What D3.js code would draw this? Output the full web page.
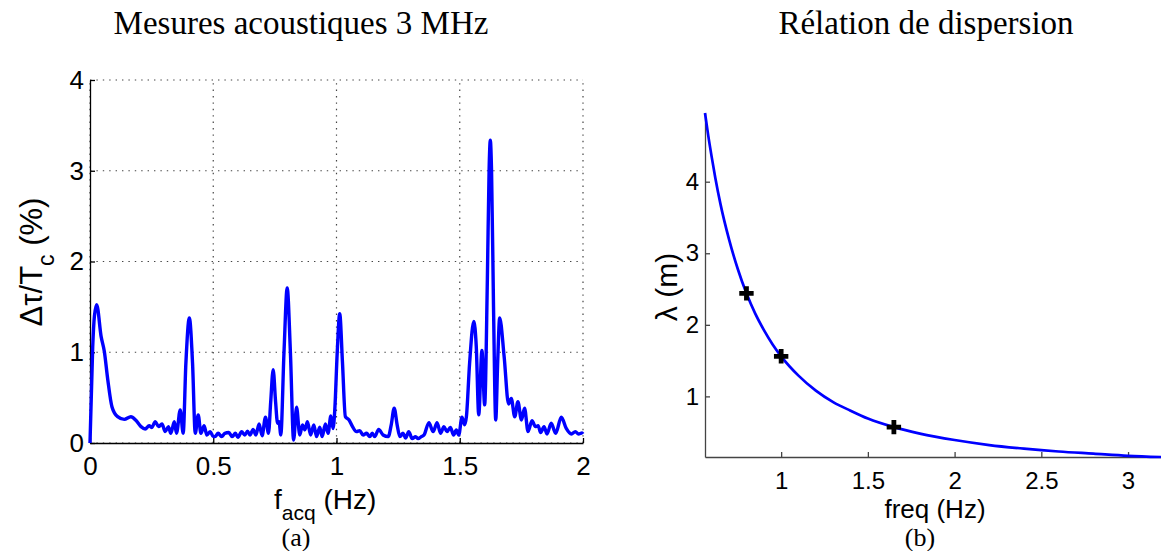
<!DOCTYPE html>
<html><head><meta charset="utf-8">
<script src="https://cdn.jsdelivr.net/npm/d3@7"></script>
<style>
html,body{margin:0;padding:0;background:#fff;}
svg{display:block;}
.tick text{font-family:"Liberation Sans",Arial,sans-serif;fill:#000;}
</style></head>
<body>
<svg id="chart" width="1161" height="551"></svg>
<script>
// ---- Panel (a): acoustic measurement spectrum ----
const facq = [0,0.011,0.018,0.027,0.045,0.058,0.072,0.089,0.112,0.139,0.166,0.186,0.207,0.224,0.24,0.25,0.265,0.278,0.292,0.305,0.318,0.328,0.342,0.351,0.366,0.378,0.389,0.403,0.416,0.427,0.439,0.45,0.463,0.474,0.488,0.5,0.507,0.52,0.534,0.547,0.563,0.577,0.59,0.6,0.615,0.628,0.639,0.649,0.662,0.673,0.686,0.698,0.712,0.724,0.733,0.743,0.753,0.761,0.767,0.774,0.787,0.8,0.813,0.826,0.838,0.851,0.862,0.872,0.882,0.895,0.908,0.919,0.932,0.942,0.955,0.966,0.977,0.986,0.993,1.003,1.013,1.024,1.036,1.051,1.065,1.081,1.094,1.108,1.122,1.135,1.145,1.155,1.171,1.189,1.21,1.222,1.234,1.246,1.257,1.27,1.28,1.293,1.307,1.321,1.331,1.344,1.355,1.375,1.392,1.408,1.422,1.436,1.448,1.462,1.475,1.486,1.496,1.509,1.52,1.527,1.54,1.557,1.567,1.577,1.59,1.601,1.612,1.619,1.624,1.629,1.637,1.646,1.654,1.662,1.68,1.698,1.709,1.723,1.736,1.75,1.763,1.777,1.793,1.807,1.818,1.828,1.842,1.854,1.871,1.889,1.912,1.932,1.953,1.969,1.982,1.996,2.0];
const dtau = [0,1.06,1.4,1.525,1.175,1.01,0.70,0.40,0.29,0.26,0.29,0.25,0.18,0.155,0.19,0.17,0.235,0.18,0.21,0.125,0.18,0.107,0.235,0.107,0.365,0.107,0.88,1.378,0.88,0.107,0.31,0.107,0.19,0.088,0.125,0.07,0.07,0.107,0.07,0.107,0.115,0.07,0.107,0.063,0.125,0.088,0.13,0.088,0.15,0.088,0.21,0.08,0.284,0.107,0.45,0.807,0.45,0.217,0.235,0.088,1.0,1.709,1.0,0.033,0.394,0.088,0.2,0.145,0.235,0.088,0.2,0.07,0.175,0.07,0.21,0.107,0.298,0.16,0.365,1.0,1.425,0.9,0.29,0.254,0.18,0.125,0.136,0.088,0.107,0.07,0.107,0.07,0.15,0.088,0.07,0.2,0.383,0.2,0.07,0.107,0.055,0.125,0.048,0.07,0.048,0.07,0.088,0.224,0.125,0.224,0.107,0.18,0.125,0.17,0.088,0.145,0.088,0.284,0.2,0.29,0.88,1.34,1.064,0.31,1.02,0.42,1.8,3.0,3.337,3.0,1.5,0.254,0.9,1.378,0.954,0.43,0.49,0.29,0.456,0.254,0.383,0.125,0.246,0.18,0.19,0.114,0.18,0.1,0.217,0.107,0.284,0.16,0.1,0.125,0.1,0.11,0.1];
const aXTicks = [0,0.5,1,1.5,2];
const aXTickLabels = ["0","0.5","1","1.5","2"];
const aYTicks = [0,1,2,3,4];
const aYTickLabels = ["0","1","2","3","4"];

// ---- Panel (b): dispersion relation ----
const freq = [0.561,0.58,0.6,0.62,0.65,0.7,0.75,0.8,0.85,0.9,0.95,1.0,1.1,1.2,1.3,1.4,1.5,1.65,1.8,2.0,2.2,2.4,2.6,2.8,3.0,3.19];
const lambda = [4.96,4.64,4.34,4.06,3.69,3.19,2.78,2.44,2.16,1.93,1.73,1.56,1.29,1.08,0.92,0.80,0.69,0.57,0.48,0.39,0.32,0.27,0.23,0.20,0.17,0.153];
const measFreq = [0.8,1.0,1.65];
const measLambda = [2.44,1.56,0.57];
const bXTicks = [1,1.5,2,2.5,3];
const bXTickLabels = ["1","1.5","2","2.5","3"];
const bYTicks = [1,2,3,4];
const bYTickLabels = ["1","2","3","4"];

const svg = d3.select("#chart");
const sans = '"Liberation Sans", Arial, sans-serif';
const serif = '"Liberation Serif", "Times New Roman", serif';

// ===== Panel (a) =====
const xa = d3.scaleLinear().domain([0,2]).range([90,583]);
const ya = d3.scaleLinear().domain([0,4]).range([443,80]);
const ga = svg.append("g");

// grid
ga.append("g").selectAll("line").data(aXTicks).join("line")
  .attr("x1",d=>xa(d)).attr("x2",d=>xa(d)).attr("y1",ya(0)).attr("y2",ya(4))
  .attr("stroke","#444").attr("stroke-width",1.2).attr("stroke-dasharray","1.4,5");
ga.append("g").selectAll("line").data(aYTicks).join("line")
  .attr("x1",xa(0)).attr("x2",xa(2)).attr("y1",d=>ya(d)).attr("y2",d=>ya(d))
  .attr("stroke","#444").attr("stroke-width",1.2).attr("stroke-dasharray","1.4,5");

const axA = ga.append("g").attr("transform",`translate(0,${ya(0)})`)
  .call(d3.axisBottom(xa).tickValues(aXTicks).tickFormat((d,i)=>aXTickLabels[i]).tickSizeInner(-5).tickSizeOuter(0).tickPadding(14));
const ayA = ga.append("g").attr("transform",`translate(${xa(0)},0)`)
  .call(d3.axisLeft(ya).tickValues(aYTicks).tickFormat((d,i)=>aYTickLabels[i]).tickSizeInner(-5).tickSizeOuter(0).tickPadding(6));
[axA,ayA].forEach(g=>{
  g.selectAll("path,line").attr("stroke","#000").attr("stroke-width",1.3);
  g.selectAll("text").style("font-family",sans).style("font-size","26px");
});

ga.append("path")
  .datum(facq.map((f,i)=>[f,dtau[i]]))
  .attr("fill","none").attr("stroke","#0000ff").attr("stroke-width",3.4)
  .attr("stroke-linejoin","round")
  .attr("d",d3.line().x(d=>xa(d[0])).y(d=>ya(d[1])).curve(d3.curveMonotoneX));

// labels panel a
const xlabA = ga.append("text").attr("x",274).attr("y",509)
  .style("font-family",sans).style("font-size","28px");
xlabA.append("tspan").text("f");
xlabA.append("tspan").attr("dy",11).style("font-size","21px").text("acq");
xlabA.append("tspan").attr("dy",-11).text(" (Hz)");

const ylabA = ga.append("text").attr("transform","translate(42,262) rotate(-90)")
  .attr("text-anchor","middle")
  .style("font-family",sans).style("font-size","31px");
ylabA.append("tspan").text("Δτ/T");
ylabA.append("tspan").attr("dy",12).style("font-size","23px").text("c");
ylabA.append("tspan").attr("dy",-12).text(" (%)");

svg.append("text").attr("x",301).attr("y",34).attr("text-anchor","middle")
  .style("font-family",serif).style("font-size","33px").text("Mesures acoustiques 3 MHz");
svg.append("text").attr("x",296).attr("y",546).attr("text-anchor","middle")
  .style("font-family",serif).style("font-size","26px").text("(a)");

// ===== Panel (b) =====
const xb = d3.scaleLinear().domain([0.561,3.19]).range([705,1161]);
const yb = d3.scaleLinear().domain([0.153,4.96]).range([457,113]);
const gb = svg.append("g");

const axB = gb.append("g").attr("transform",`translate(0,${yb(0.153)})`)
  .call(d3.axisBottom(xb).tickValues(bXTicks).tickFormat((d,i)=>bXTickLabels[i]).tickSizeInner(-5).tickSizeOuter(0).tickPadding(15));
const ayB = gb.append("g").attr("transform",`translate(${xb(0.561)},0)`)
  .call(d3.axisLeft(yb).tickValues(bYTicks).tickFormat((d,i)=>bYTickLabels[i]).tickSizeInner(-5).tickSizeOuter(0).tickPadding(6));
[axB,ayB].forEach(g=>{
  g.selectAll("path,line").attr("stroke","#444").attr("stroke-width",1.3);
  g.selectAll("text").style("font-family",sans).style("font-size","24px");
});

gb.append("path")
  .datum(freq.map((f,i)=>[f,lambda[i]]))
  .attr("fill","none").attr("stroke","#0000ff").attr("stroke-width",2.7)
  .attr("d",d3.line().x(d=>xb(d[0])).y(d=>yb(d[1])).curve(d3.curveMonotoneX));

gb.append("g").selectAll("path").data(measFreq.map((f,i)=>[f,measLambda[i]])).join("path")
  .attr("transform",d=>`translate(${xb(d[0])},${yb(d[1])})`)
  .attr("d",d3.symbol(d3.symbolCross,115))
  .attr("fill","#000");

gb.append("text").attr("x",935).attr("y",518).attr("text-anchor","middle")
  .style("font-family",sans).style("font-size","26px").text("freq (Hz)");
gb.append("text").attr("transform","translate(677,287) rotate(-90)").attr("text-anchor","middle")
  .style("font-family",sans).style("font-size","30px").text("λ (m)");

svg.append("text").attr("x",926).attr("y",34).attr("text-anchor","middle")
  .style("font-family",serif).style("font-size","33px").text("Rélation de dispersion");
svg.append("text").attr("x",920).attr("y",546).attr("text-anchor","middle")
  .style("font-family",serif).style("font-size","26px").text("(b)");
</script>
</body></html>
